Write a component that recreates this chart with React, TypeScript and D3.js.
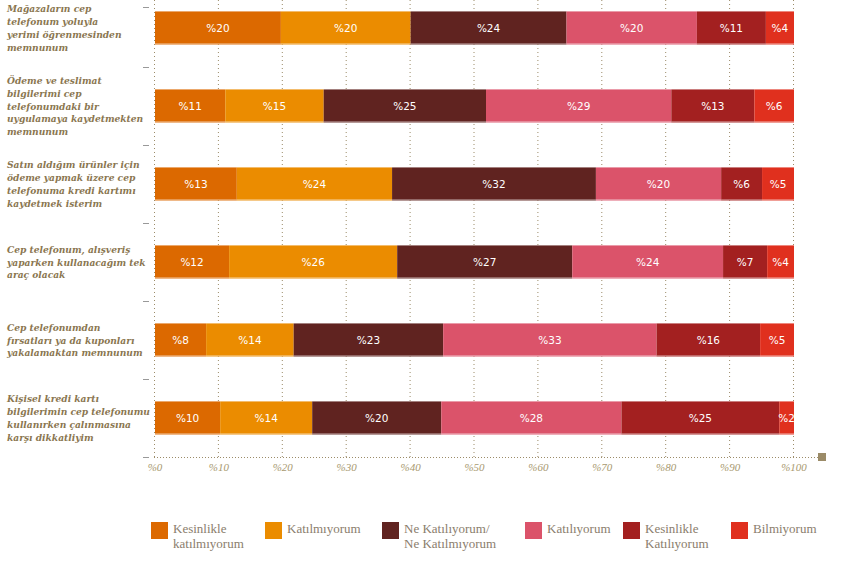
import React from 'react';
import * as d3 from 'd3';

// Statements (wrapped as in the original)
const categories: string[][] = [
  ['Mağazaların cep', 'telefonum yoluyla', 'yerimi öğrenmesinden', 'memnunum'],
  ['Ödeme ve teslimat', 'bilgilerimi cep', 'telefonumdaki bir', 'uygulamaya kaydetmekten', 'memnunum'],
  ['Satın aldığım ürünler için', 'ödeme yapmak üzere cep', 'telefonuma kredi kartımı', 'kaydetmek isterim'],
  ['Cep telefonum, alışveriş', 'yaparken kullanacağım tek', 'araç olacak'],
  ['Cep telefonumdan', 'fırsatları ya da kuponları', 'yakalamaktan memnunum'],
  ['Kişisel kredi kartı', 'bilgilerimin cep telefonumu', 'kullanırken çalınmasına', 'karşı dikkatliyim']
];

const seriesNames: string[] = [
  'Kesinlikle katılmıyorum',
  'Katılmıyorum',
  'Ne Katılıyorum/ Ne Katılmıyorum',
  'Katılıyorum',
  'Kesinlikle Katılıyorum',
  'Bilmiyorum'
];
const legendLines: string[][] = [
  ['Kesinlikle', 'katılmıyorum'],
  ['Katılmıyorum'],
  ['Ne Katılıyorum/', 'Ne Katılmıyorum'],
  ['Katılıyorum'],
  ['Kesinlikle', 'Katılıyorum'],
  ['Bilmiyorum']
];
const colors: string[] = ['#DC6900', '#EB8C00', '#602320', '#DB536A', '#A32020', '#E0301E'];

// values per row (percent), one entry per series
const row1 = [19.7, 20.3, 24.4, 20.4, 10.8, 4.4];
const row2 = [11.0, 15.4, 25.4, 29.0, 13.0, 6.2];
const row3 = [12.8, 24.3, 31.9, 19.6, 6.4, 5.0];
const row4 = [11.6, 26.3, 27.4, 23.6, 6.9, 4.2];
const row5 = [8.0, 13.7, 23.4, 33.4, 16.2, 5.3];
const row6 = [10.2, 14.4, 20.2, 28.2, 24.7, 2.3];
const rows = [row1, row2, row3, row4, row5, row6];

const xTicks = [0, 10, 20, 30, 40, 50, 60, 70, 80, 90, 100];

const W = 851;
const H = 561;
const labelColor = '#8a7650';
const axisColor = '#9b8b68';

const App: React.FC = () => {
  const x = d3.scaleLinear().domain([0, 100]).range([155, 794]);
  const y = d3.scaleBand<number>().domain(d3.range(rows.length)).range([-11, 457]).paddingInner(0.575).paddingOuter(0.2875);
  const step = y.step();
  const bh = y.bandwidth();
  const bandTop = (i: number) => y(i)! - (step - bh) / 2;

  const stacked = rows.map(vals => {
    const cum = d3.cumsum(vals);
    return vals.map((v, k) => ({ v, k, x0: k === 0 ? 0 : cum[k - 1], x1: cum[k] }));
  });

  const legendX = [151, 265, 382, 525, 623, 731];

  return <svg width={W} height={H} style={{ position: 'absolute', left: 0, top: 0, background: '#fff' }}>
      <defs>
        <clipPath id="plotClip">
          <rect x={x(0)} y={0} width={x(100) - x(0)} height={460} />
        </clipPath>
      </defs>
      {/* vertical grid */}
      {xTicks.map(t => <line key={'g' + t} x1={x(t) - 0.5} x2={x(t) - 0.5} y1={0} y2={457} stroke={axisColor} strokeWidth={1} strokeDasharray="1,3" />)}
      {/* x axis */}
      <line x1={x(0) - 1} x2={822} y1={457.5} y2={457.5} stroke={axisColor} strokeDasharray="1,2" />
      <rect x={818} y={453} width={8} height={8} fill={axisColor} />
      {xTicks.map(t => <text key={'t' + t} x={x(t)} y={471} textAnchor="middle" fontFamily="'Liberation Serif', serif" fontStyle="italic" fontSize={11} fill="#a8996f">
          {'%' + t}
        </text>)}
      {/* category ticks */}
      {[7, ...d3.range(1, rows.length + 1).map(i => i < rows.length ? bandTop(i) : 457)].map((ty, i) => <line key={'ct' + i} x1={143} x2={149} y1={Math.round(ty) + 0.5} y2={Math.round(ty) + 0.5} stroke="#999" strokeWidth={1} />)}
      {/* bars */}
      {stacked.map((segs, i) => <g key={'r' + i}>
          {segs.map(s => <g key={s.k}>
              <rect x={x(s.x0)} y={y(i)!} width={x(s.x1) - x(s.x0)} height={bh} fill={colors[s.k]} />
              <rect x={x(s.x0)} y={y(i)! + bh - 1.5} width={x(s.x1) - x(s.x0)} height={1.5} fill="#fff" opacity={0.35} />
            </g>)}
          <g clipPath="url(#plotClip)">
            {segs.map(s => <text key={'l' + s.k} x={(x(s.x0) + x(s.x1)) / 2} y={y(i)! + bh / 2 + 4} textAnchor="middle" fontFamily="'DejaVu Sans', sans-serif" fontSize={10.5} fill="#fff">
                {'%' + Math.round(s.v)}
              </text>)}
          </g>
        </g>)}
      {/* category labels */}
      {categories.map((lines, i) => {
      const lh = 12.7;
      const cy = y(i)! + bh / 2;
      const start = cy - (lines.length - 1) * lh / 2 + 3.5;
      return <text key={'c' + i} fontFamily="'DejaVu Serif', serif" fontStyle="italic" fontWeight="bold" fontSize={9.1} fill={labelColor}>
            {lines.map((ln, j) => <tspan key={j} x={7} y={start + j * lh}>{ln}</tspan>)}
          </text>;
    })}
      {/* legend */}
      {seriesNames.map((name, k) => <g key={'lg' + k} aria-label={name}>
          <rect x={legendX[k]} y={522} width={17} height={17} fill={colors[k]} />
          <text fontFamily="'Liberation Serif', serif" fontSize={13} fill="#8a7d6c">
            {legendLines[k].map((ln, j) => <tspan key={j} x={legendX[k] + 22} y={533 + j * 15}>{ln}</tspan>)}
          </text>
        </g>)}
    </svg>;
};

export default App;
